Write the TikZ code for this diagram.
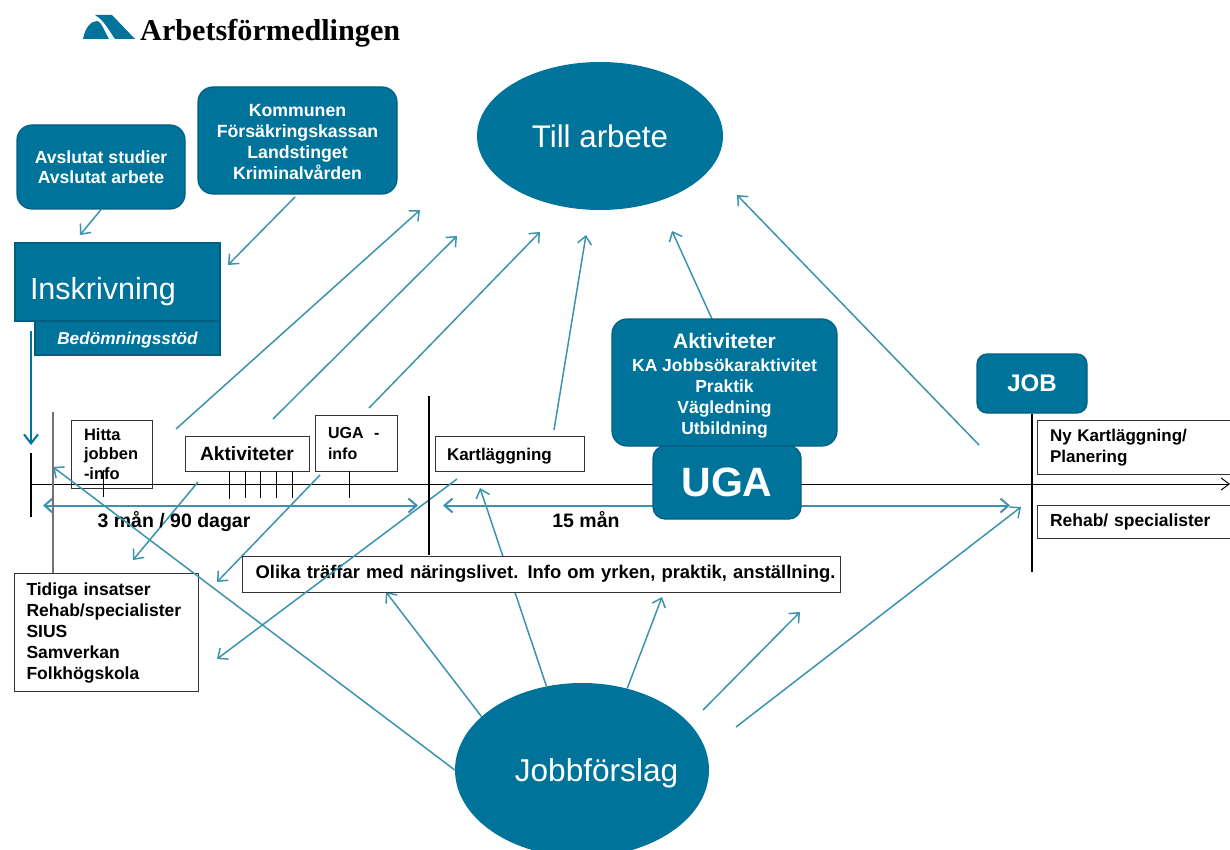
\documentclass[tikz,border=0pt]{standalone}
\usepackage{fontspec}
\setmainfont{Liberation Sans}
\newfontfamily\logofont{Liberation Serif}
\usetikzlibrary{positioning}
\usetikzlibrary{shapes.geometric}
\usetikzlibrary{arrows.meta}
\usetikzlibrary{backgrounds}
\definecolor{afteal}{HTML}{00739A}
\definecolor{afdark}{HTML}{005F80}
\definecolor{afline}{HTML}{3B93AD}
\tikzset{
    tealbox/.style={draw=afdark, line width=1.2pt, fill=afteal, text=white, align=center, rounded corners=15pt, inner sep=0pt},
    tealrect/.style={draw=afdark, line width=1.2pt, fill=afteal, text=white, inner sep=0pt},
    tealoval/.style={ellipse, fill=afteal, text=white, inner sep=0pt},
    whitebox/.style={draw=black!80, line width=1pt, fill=white, align=left, inner ysep=0pt, font=\fontsize{17.5}{21}\selectfont\bfseries},
    flow/.style={-{Straight Barb[length=8pt,width=14pt]}, afline, line width=1.5pt},
    span/.style={{Straight Barb[length=8pt,width=14pt]}-{Straight Barb[length=8pt,width=14pt]}, afline, line width=2pt},
    tick/.style={black, line width=0.8pt},
    bar/.style={black, line width=2.2pt}
}
\begin{document}
\begin{tikzpicture}[x=1pt, y=-1pt]
    \useasboundingbox (0,0) rectangle (1230,850);

    % Logo
    \fill[afteal] (83,39) .. controls (85,28) and (91,21) .. (97,21) .. controls (102,22) and (105,33) .. (109,39) -- cycle;
    \fill[afteal] (95,15) -- (112,15) -- (135,39) -- (115,39) .. controls (110,32) and (104,20) .. cycle;
    \node [anchor=base west, inner sep=0pt, font=\logofont\fontsize{30.2}{32}\selectfont\bfseries] (logo) at (140,41) {Arbetsförmedlingen};

    % Teal boxes
    \node [tealbox, minimum width=168pt, minimum height=84pt, font=\fontsize{17.6}{20.5}\selectfont\bfseries] (avslutat) at (101,167) {Avslutat studier\\Avslutat arbete};
    \node [tealbox, minimum width=199pt, minimum height=107pt, font=\fontsize{17.7}{20.9}\selectfont\bfseries] (kommunen) at (297.5,140.5) {\rule{0pt}{15pt}Kommunen\\Försäkringskassan\\Landstinget\\Kriminalvården};
    \node [tealrect, minimum width=185pt, minimum height=34pt, text height=12pt, text depth=0pt, font=\fontsize{17.2}{20}\selectfont\bfseries\itshape] (bedomning) at (127.5,338) {Bedömningsstöd};
    \node [tealrect, minimum width=205pt, minimum height=78pt, text width=190pt, text height=34pt, text depth=0pt, align=left, font=\fontsize{30.5}{36}\selectfont] (inskrivning) at (117.5,282) {\hspace{7.5pt}Inskrivning};
    \node [tealoval, minimum width=246pt, minimum height=148pt, font=\fontsize{31.3}{36}\selectfont] (tillarbete) at (600,136) {Till arbete};
    \node [tealoval, minimum width=254pt, minimum height=174pt, text height=22pt, text depth=0pt, font=\fontsize{31.6}{36}\selectfont] (jobbforslag) at (582,770) {\makebox[0pt]{\hspace*{29pt}Jobbförslag}};
    \node [tealbox, minimum width=225pt, minimum height=127pt, font=\fontsize{17.5}{21}\selectfont\bfseries] (aktivitetbox) at (724.5,382.5) {\rule{0pt}{22pt}{\fontsize{21}{21}\selectfont Aktiviteter}\\[2pt]KA Jobbsökaraktivitet\\Praktik\\Vägledning\\Utbildning};
    \node [tealbox, rounded corners=12pt, minimum width=148pt, minimum height=73pt, font=\fontsize{41}{46}\selectfont\bfseries] (uga) at (727,482.5) {UGA};
    \node [tealbox, rounded corners=10pt, minimum width=110pt, minimum height=59pt, font=\fontsize{24}{26}\selectfont\bfseries] (job) at (1032,383.5) {JOB};

    % White boxes
    \node [whitebox, fill=none, text width=55pt, inner xsep=13pt, minimum height=68pt, font=\fontsize{16.5}{19.5}\selectfont\bfseries] (hitta) at (111.5,454) {Hitta\\jobben\\-info};
    \node [whitebox, text width=124pt, inner xsep=0pt, minimum height=35pt, align=center, font=\fontsize{19.2}{21}\selectfont\bfseries] (aktiviteter) at (247,453.5) {Aktiviteter};
    \node [whitebox, text width=56pt, inner xsep=13pt, minimum height=56pt, font=\fontsize{16}{21}\selectfont\bfseries] (ugainfo) at (356,443) {UGA\ \ -\\info};
    \node [whitebox, text width=125pt, inner xsep=12pt, minimum height=35pt, text height=13pt, text depth=0pt, font=\fontsize{17}{21}\selectfont\bfseries] (kartlaggning) at (509.5,453.5) {Kartläggning};
    \node [whitebox, text width=190pt, inner xsep=13pt, minimum height=54pt, font=\fontsize{17}{21}\selectfont\bfseries] (nykart) at (1145,447) {\rule{0pt}{14pt}Ny Kartläggning/\\Planering};
    \node [whitebox, text width=190pt, inner xsep=13pt, minimum height=33pt] (rehab) at (1145,521.5) {Rehab/ specialister};
    \node [whitebox, text width=598pt, inner xsep=0pt, minimum height=36pt, align=center, font=\fontsize{18.4}{21}\selectfont\bfseries] (olika) at (541,574) {\hspace*{9pt}Olika träffar med näringslivet. Info om yrken, praktik, anställning.};
    \node [whitebox, text width=159pt, inner xsep=12.5pt, minimum height=118pt] (tidiga) at (106,632) {\rule{0pt}{15pt}Tidiga insatser\\Rehab/specialister\\SIUS\\Samverkan\\Folkhögskola};

    % Texts on the line
    \node [font=\fontsize{19.5}{21}\selectfont\bfseries, inner sep=0pt] (tremanader) at (174,522) {3 mån / 90 dagar};
    \node [font=\fontsize{19.5}{21}\selectfont\bfseries, inner sep=0pt] (femtonman) at (586,520) {15 mån};

    % Free ends
    \coordinate (lineL) at (31,484);
    \coordinate (lineR) at (1230,484);
    \coordinate (inskrivningS) at (31,331);
    \coordinate (inskrivningE) at (31,445);
    \coordinate (avslutatE) at (80,235);
    \coordinate (kommunenS) at (295,197);
    \coordinate (kommunenE) at (228,265);
    \coordinate (hittaS) at (176,429);
    \coordinate (hittaE) at (420,210);
    \coordinate (aktivS) at (273,419);
    \coordinate (aktivE) at (457,236);
    \coordinate (ugainfoS) at (369,408);
    \coordinate (ugainfoE) at (540,232);
    \coordinate (kartS) at (554,430);
    \coordinate (kartE) at (586,235);
    \coordinate (aktivboxS) at (712,319);
    \coordinate (aktivboxE) at (672,231);
    \coordinate (jobS) at (979,445);
    \coordinate (jobE) at (737,195);
    \coordinate (spanA) at (43,505.5);
    \coordinate (spanB) at (418,505.5);
    \coordinate (spanC) at (443,505.5);
    \coordinate (spanD) at (1010,505.5);
    \coordinate (aktivDownS) at (198,482);
    \coordinate (aktivDownE) at (133,560);
    \coordinate (ugaDownS) at (320,475);
    \coordinate (ugaDownE) at (217,582);
    \coordinate (kartDownS) at (457,479);
    \coordinate (kartDownE) at (217,659);
    \coordinate (jobbA) at (53,467);
    \coordinate (jobbB) at (480,488);
    \coordinate (jobbC) at (386,592);
    \coordinate (jobbD) at (662,597);
    \coordinate (jobbES) at (703,710);
    \coordinate (jobbE) at (800,612);
    \coordinate (jobbFS) at (736,727);
    \coordinate (jobbF) at (1021,507);

    % Connectors
    \begin{scope}[on background layer]
        \draw [black, line width=1pt, -{Straight Barb[length=8pt,width=12pt]}] (lineL) -- (lineR);
        \draw [flow] (avslutat.south) -- (avslutatE);
        \draw [flow] (kommunenS) -- (kommunenE);
        \draw [flow] (hittaS) -- (hittaE);
        \draw [flow] (aktivS) -- (aktivE);
        \draw [flow] (ugainfoS) -- (ugainfoE);
        \draw [flow] (kartS) -- (kartE);
        \draw [flow] (aktivboxS) -- (aktivboxE);
        \draw [flow] (jobS) -- (jobE);
        \draw [flow] (aktivDownS) -- (aktivDownE);
        \draw [flow] (ugaDownS) -- (ugaDownE);
        \draw [span] (spanA) -- (spanB);
        \draw [span] (spanC) -- (spanD);
        \draw [flow] (jobbforslag.113) -- (jobbB);
        \draw [flow] (jobbforslag.152) -- (jobbC);
        \draw [flow] (jobbforslag.61) -- (jobbD);
        \draw [flow] (jobbES) -- (jobbE);
        \draw [flow] (jobbFS) -- (jobbF);
    \end{scope}
    \draw [flow] (kartDownS) -- (kartDownE);
    \draw [flow] (jobbforslag.180) -- (jobbA);
    \draw [-{Straight Barb[length=9pt,width=14pt]}, afteal, line width=2pt] (inskrivningS) -- (inskrivningE);

    % Bars and ticks
    \draw [bar] (31,453) -- (31,517);
    \draw [black!55, line width=1.4pt] (53,412) -- (53,412 |- tidiga.north);
    \draw [bar] (429,396) -- (429,555);
    \draw [bar] (job.south) -- (1032,572);
    \draw [tick] (103,470) -- (103,497);
    \draw [tick] (229,471) -- (229,499);
    \draw [tick] (245,471) -- (245,498);
    \draw [tick] (260,471) -- (260,498);
    \draw [tick] (276,471) -- (276,498);
    \draw [tick] (292,471) -- (292,498);
    \draw [tick] (349,471) -- (349,498);
\end{tikzpicture}
\end{document}
